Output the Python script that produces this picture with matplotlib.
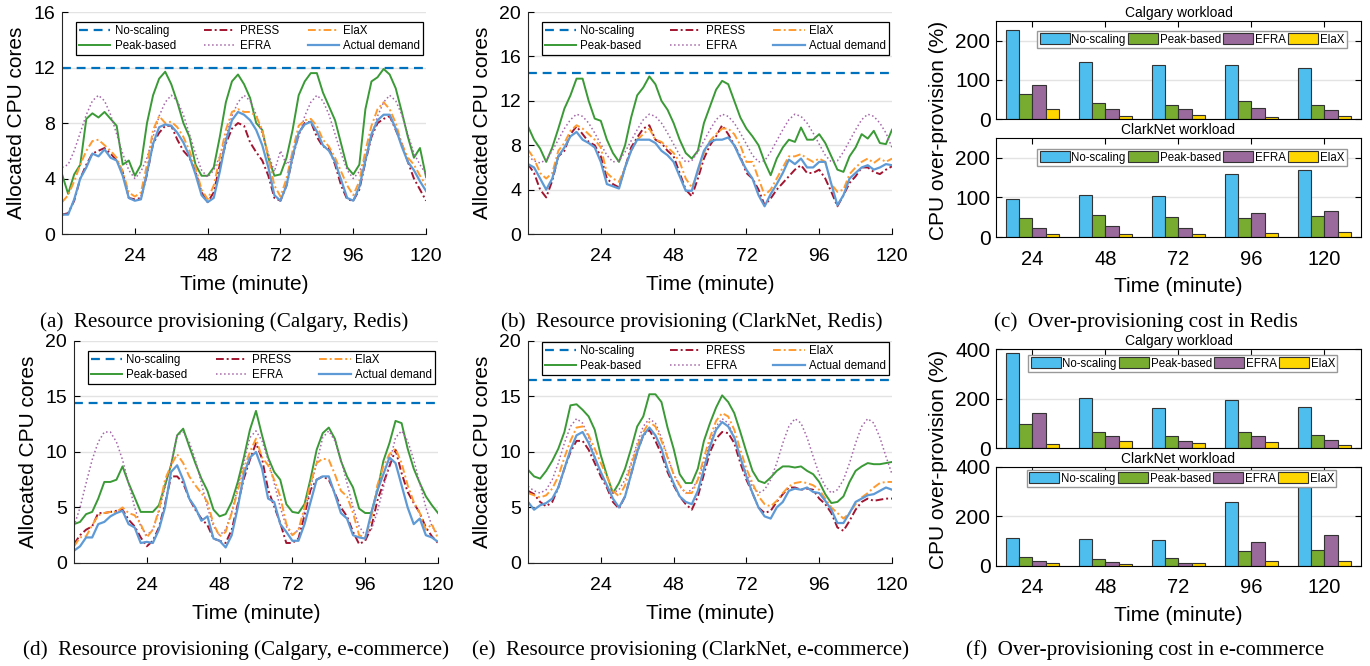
import numpy as np
import matplotlib.pyplot as plt

plt.rcParams['font.family'] = ['Liberation Sans', 'DejaVu Sans']

# time axis of the provisioning traces (minutes)
minutes = np.arange(0, 121, 2)

# (a) Calgary, Redis
noscale_a = 12.0
peak_a = [4.3, 2.9, 4.3, 5.0, 8.3, 8.7, 8.4, 8.8, 8.3, 7.8, 5.0, 5.3, 4.2, 5.0, 8.0, 10.0, 11.2, 11.7, 10.8, 9.5,
          8.0, 7.0, 5.0, 4.2, 4.2, 4.8, 7.0, 9.5, 11.0, 11.5, 10.8, 9.8, 8.0, 7.5, 5.5, 4.2, 4.3, 5.5, 7.5, 10.0,
          11.0, 11.6, 11.6, 10.2, 9.2, 8.2, 6.5, 4.8, 4.3, 5.0, 9.0, 11.0, 11.3, 11.9, 11.5, 10.5, 8.8, 7.0, 5.5, 6.2, 4.1]
press_a = [1.4, 1.5, 2.4, 4.0, 5.0, 5.8, 6.0, 6.2, 5.8, 5.3, 4.5, 2.6, 2.5, 2.6, 4.3, 6.5, 7.3, 7.8, 7.8, 6.8,
           6.0, 5.5, 4.5, 3.0, 2.3, 3.0, 5.0, 6.5, 7.6, 8.0, 7.8, 6.6, 5.9, 5.3, 4.2, 2.6, 2.4, 3.5, 5.5, 7.2,
           8.0, 8.1, 7.0, 6.3, 6.2, 5.0, 3.5, 2.5, 2.4, 3.2, 5.2, 7.0, 8.0, 8.3, 8.5, 7.5, 6.5, 5.2, 4.0, 3.2, 2.4]
efra_a = [4.8, 5.0, 6.0, 7.3, 8.6, 9.6, 10.0, 9.6, 8.6, 7.2, 5.8, 4.6, 4.0, 4.5, 5.5, 7.0, 8.5, 9.5, 10.0, 9.6,
          8.6, 7.2, 5.8, 4.6, 4.1, 4.6, 5.6, 7.0, 8.5, 9.5, 10.0, 9.6, 8.6, 7.2, 5.8, 4.5, 6.0, 5.0, 5.6, 7.0,
          8.5, 9.5, 10.0, 9.6, 8.6, 7.2, 5.8, 4.6, 4.0, 4.5, 5.5, 7.0, 8.5, 9.5, 10.0, 9.6, 8.6, 7.2, 5.8, 5.0, 4.3]
elax_a = [2.3, 2.8, 3.8, 5.0, 6.0, 6.7, 6.8, 6.4, 6.0, 5.5, 4.5, 3.0, 2.7, 3.0, 5.0, 7.5, 8.5, 8.0, 8.1, 7.7,
          7.0, 6.0, 4.8, 3.2, 2.5, 3.5, 5.5, 7.5, 8.8, 9.0, 8.8, 8.8, 8.5, 7.5, 5.5, 3.5, 2.7, 4.0, 6.0, 7.8,
          8.2, 8.3, 7.8, 6.8, 6.3, 5.5, 4.5, 3.5, 2.8, 3.8, 6.0, 7.8, 9.0, 9.5, 9.0, 8.0, 6.5, 5.5, 5.0, 4.2, 3.5]
actual_a = [1.4, 1.4, 2.5, 4.0, 4.8, 5.8, 5.6, 6.1, 5.5, 5.3, 4.2, 2.6, 2.4, 2.5, 4.4, 6.5, 7.7, 7.9, 7.8, 7.3,
            6.6, 5.6, 4.3, 2.8, 2.3, 2.6, 4.5, 6.7, 8.2, 8.8, 8.6, 8.2, 7.5, 6.4, 4.8, 2.8, 2.4, 3.5, 5.6, 7.3,
            7.9, 8.1, 7.4, 6.4, 6.0, 5.2, 3.9, 2.6, 2.4, 3.4, 5.3, 7.2, 8.2, 8.6, 8.6, 7.6, 6.3, 5.2, 4.6, 3.8, 3.1]

# (b) ClarkNet, Redis
noscale_b = 14.5
peak_b = [9.7, 8.5, 7.7, 6.5, 7.8, 9.5, 11.3, 12.5, 14.0, 14.0, 12.0, 10.4, 10.2, 8.5, 7.3, 6.5, 8.0, 10.5, 12.5, 13.2,
          14.2, 13.5, 12.0, 11.2, 10.0, 8.5, 7.3, 6.8, 7.5, 10.0, 11.5, 13.0, 13.8, 13.5, 12.0, 10.5, 9.5, 8.8, 8.0, 6.5,
          5.3, 6.8, 7.8, 8.5, 8.3, 9.6, 8.5, 8.5, 9.0, 8.2, 7.0, 5.8, 5.6, 7.0, 7.8, 9.0, 8.6, 9.3, 8.2, 8.1, 9.4]
press_b = [6.3, 5.5, 4.0, 3.3, 4.8, 7.0, 7.5, 9.0, 9.7, 9.0, 8.3, 8.0, 7.0, 5.0, 4.5, 4.2, 6.0, 7.8, 8.7, 9.5,
           9.8, 8.5, 8.2, 7.5, 7.0, 5.5, 4.0, 3.4, 5.0, 6.8, 8.0, 8.8, 9.8, 9.0, 8.0, 7.0, 5.5, 5.0, 4.0, 2.6,
           3.2, 4.0, 4.6, 5.2, 5.8, 6.2, 5.5, 5.5, 5.8, 5.0, 3.8, 2.5, 3.5, 4.6, 5.2, 6.0, 6.0, 5.6, 5.4, 5.8, 6.1]
efra_b = [7.0, 6.6, 6.4, 6.7, 7.5, 8.5, 9.5, 10.3, 10.8, 10.6, 10.0, 9.1, 8.1, 7.1, 6.5, 6.6, 7.4, 8.4, 9.4, 10.3,
          10.8, 10.6, 10.0, 9.1, 8.1, 7.1, 6.5, 6.6, 7.4, 8.4, 9.4, 10.3, 10.8, 10.6, 10.0, 9.1, 8.1, 7.1, 6.5, 6.6,
          7.4, 8.4, 9.4, 10.3, 10.8, 10.6, 10.0, 9.1, 8.1, 7.1, 6.5, 6.6, 7.4, 8.4, 9.4, 10.3, 10.8, 10.6, 10.0, 9.1, 7.8]
elax_b = [7.6, 6.8, 5.5, 5.0, 5.5, 7.5, 8.2, 9.3, 9.8, 9.5, 9.0, 8.5, 7.8, 5.5, 5.0, 4.7, 6.0, 7.5, 8.5, 9.0,
          9.5, 8.5, 8.3, 7.8, 7.3, 6.5, 5.0, 4.2, 5.5, 7.3, 8.4, 9.0, 9.5, 9.5, 9.0, 8.0, 6.5, 6.5, 5.0, 3.5,
          4.0, 5.0, 6.0, 7.0, 7.0, 7.2, 6.8, 6.5, 6.8, 6.5, 4.5, 3.8, 4.0, 5.4, 6.0, 6.5, 6.8, 6.4, 6.8, 6.5, 6.8]
actual_b = [6.3, 6.0, 5.0, 4.0, 5.0, 7.0, 7.8, 8.8, 9.2, 8.5, 8.2, 7.8, 6.5, 4.5, 4.3, 4.1, 6.0, 7.5, 8.5, 8.5,
            8.5, 8.2, 7.5, 7.1, 6.5, 5.2, 3.9, 3.9, 5.8, 7.5, 8.3, 8.5, 8.5, 8.7, 8.0, 6.8, 5.8, 5.0, 3.5, 2.5,
            3.6, 4.5, 5.5, 6.7, 6.3, 6.8, 6.0, 6.0, 6.5, 6.5, 4.5, 2.6, 3.5, 5.0, 5.5, 6.0, 6.2, 5.8, 6.0, 6.3, 6.2]

# (d) Calgary, e-commerce
noscale_d = 14.4
peak_d = [3.5, 3.7, 4.4, 4.6, 5.8, 7.3, 7.3, 7.5, 8.7, 7.2, 5.9, 4.6, 4.6, 4.6, 5.2, 7.0, 8.8, 11.5, 12.1, 10.5,
          9.0, 7.6, 6.5, 4.8, 4.2, 4.4, 5.5, 7.3, 9.5, 12.0, 13.7, 11.5, 9.5, 8.2, 7.5, 5.3, 4.6, 4.5, 5.3, 7.6,
          10.2, 11.7, 12.2, 11.2, 9.2, 7.8, 6.8, 4.9, 4.5, 4.5, 6.5, 9.2, 10.8, 12.8, 12.6, 10.3, 8.5, 7.2, 6.0, 5.2, 4.5]
press_d = [1.7, 2.5, 3.0, 3.3, 4.5, 4.5, 4.6, 4.7, 4.8, 3.9, 3.3, 2.3, 1.5, 2.0, 3.2, 5.3, 7.8, 7.8, 7.2, 5.8,
           4.8, 4.0, 3.4, 2.2, 2.0, 1.8, 3.0, 5.3, 7.6, 9.3, 10.8, 9.4, 6.6, 5.1, 3.6, 1.8, 1.8, 2.2, 4.3, 6.6,
           7.5, 7.8, 7.5, 6.3, 5.0, 4.2, 2.8, 1.7, 2.0, 3.2, 5.6, 7.2, 8.7, 10.2, 8.1, 6.4, 5.4, 4.5, 3.2, 2.4, 1.8]
efra_d = [3.3, 5.0, 7.2, 9.3, 10.9, 11.8, 11.8, 10.9, 9.3, 7.2, 5.0, 3.3, 2.5, 3.0, 4.6, 6.8, 9.0, 11.5, 11.8, 10.9,
          9.3, 7.2, 5.0, 3.3, 2.5, 3.0, 4.6, 6.8, 9.0, 11.3, 11.9, 11.0, 9.3, 7.2, 5.0, 3.3, 2.5, 3.0, 4.6, 6.8,
          9.0, 11.3, 11.9, 11.0, 9.3, 7.2, 5.0, 3.3, 2.5, 3.0, 4.6, 6.8, 9.0, 11.3, 11.9, 11.0, 9.3, 7.2, 5.0, 3.3, 2.6]
elax_d = [1.5, 2.3, 2.4, 3.4, 4.3, 4.5, 4.6, 4.6, 5.0, 4.5, 4.3, 3.5, 2.3, 3.0, 4.8, 7.5, 8.8, 9.8, 9.0, 7.8,
          7.0, 6.3, 5.5, 3.5, 2.4, 2.8, 4.5, 6.5, 8.5, 10.0, 11.2, 9.5, 8.8, 7.5, 6.0, 3.5, 2.5, 3.0, 5.0, 7.2,
          9.0, 9.4, 9.3, 8.0, 6.5, 6.0, 4.5, 2.5, 2.3, 4.0, 7.0, 8.7, 9.8, 10.3, 9.0, 7.0, 5.5, 4.5, 3.0, 3.5, 2.2]
actual_d = [1.1, 1.5, 2.3, 2.3, 3.5, 3.7, 4.2, 4.5, 4.7, 3.5, 3.2, 1.8, 1.9, 1.8, 3.0, 5.0, 8.2, 8.8, 7.5, 5.8,
            5.0, 3.8, 4.2, 2.2, 2.0, 1.4, 2.5, 5.0, 8.0, 9.5, 10.0, 8.5, 5.8, 5.5, 3.5, 2.8, 2.0, 2.0, 3.5, 5.5,
            7.5, 7.8, 7.8, 6.2, 4.5, 4.0, 2.5, 2.3, 2.2, 4.5, 6.5, 8.0, 9.5, 9.0, 7.0, 5.0, 3.5, 4.0, 2.5, 2.3, 1.9]

# (e) ClarkNet, e-commerce
noscale_e = 16.5
peak_e = [8.4, 7.8, 7.6, 8.3, 9.2, 10.3, 11.8, 14.2, 14.3, 13.8, 13.2, 12.0, 9.7, 7.9, 6.3, 7.2, 8.5, 10.3, 12.3, 13.2,
          15.2, 15.2, 14.5, 12.2, 10.3, 8.0, 7.2, 7.2, 8.5, 11.0, 12.6, 14.0, 15.1, 14.5, 13.5, 11.8, 10.0, 8.3, 7.4, 7.2,
          7.7, 8.3, 8.7, 8.7, 8.6, 8.7, 8.3, 8.0, 7.3, 6.2, 5.4, 5.5, 6.0, 7.3, 8.3, 8.7, 9.0, 8.9, 8.9, 9.0, 9.1]
press_e = [6.5, 6.2, 5.5, 5.1, 5.5, 6.8, 8.5, 10.0, 11.0, 11.0, 10.2, 9.0, 7.8, 6.8, 5.5, 4.9, 6.0, 8.0, 10.0, 11.5,
           12.0, 11.0, 9.8, 8.2, 7.0, 6.0, 5.3, 4.8, 6.0, 8.0, 10.0, 11.2, 11.8, 11.7, 10.8, 9.0, 7.5, 6.3, 5.0, 4.5,
           4.7, 5.5, 6.2, 6.8, 6.8, 6.6, 6.7, 6.6, 5.8, 5.3, 4.5, 3.2, 2.9, 3.8, 4.8, 5.5, 5.8, 5.6, 5.7, 5.8, 5.8]
efra_e = [6.9, 6.5, 6.3, 6.6, 7.5, 9.0, 10.8, 12.3, 13.0, 12.6, 11.3, 9.6, 8.0, 6.9, 6.3, 6.6, 7.5, 9.0, 10.8, 12.3,
          13.0, 12.6, 11.3, 9.6, 8.0, 6.9, 6.3, 6.6, 7.5, 9.0, 10.8, 12.3, 13.0, 12.6, 11.3, 9.6, 8.0, 6.9, 6.3, 6.6,
          7.5, 9.0, 10.8, 12.3, 13.0, 12.6, 11.3, 9.6, 8.0, 6.9, 6.3, 6.6, 7.5, 9.0, 10.8, 12.3, 13.0, 12.6, 11.3, 9.6, 8.0]
elax_e = [6.3, 6.1, 5.9, 6.1, 6.7, 7.8, 9.5, 11.0, 12.2, 12.3, 11.5, 10.3, 9.0, 7.8, 6.5, 6.0, 7.0, 8.8, 10.5, 11.8,
          12.7, 12.3, 11.0, 9.5, 8.0, 7.0, 6.3, 6.3, 7.5, 9.5, 11.3, 12.8, 13.5, 13.2, 12.0, 10.2, 8.5, 7.2, 6.0, 5.3,
          5.1, 5.6, 6.3, 6.9, 7.2, 7.3, 7.2, 7.0, 6.6, 5.8, 5.0, 4.5, 4.0, 4.5, 5.3, 5.9, 6.3, 6.8, 7.2, 7.3, 7.3]
actual_e = [5.5, 4.8, 5.2, 5.4, 5.8, 6.8, 8.5, 10.2, 11.5, 11.8, 10.8, 9.5, 8.2, 7.0, 5.8, 5.0, 6.0, 8.0, 10.0, 11.5,
            12.2, 11.5, 10.3, 8.5, 7.2, 6.0, 5.5, 5.3, 6.5, 8.5, 10.5, 12.0, 12.7, 12.3, 11.3, 9.5, 7.8, 6.3, 5.0, 4.2,
            4.0, 5.0, 5.5, 6.5, 6.7, 6.6, 6.8, 6.4, 6.3, 5.6, 4.8, 3.6, 3.6, 4.5, 5.5, 5.8, 6.1, 6.2, 6.5, 6.8, 6.6]

# over-provisioning cost (%), order: No-scaling, Peak-based, EFRA, ElaX
groups = [24, 48, 72, 96, 120]
bar_names = ['No-scaling', 'Peak-based', 'EFRA', 'ElaX']
redis_calgary = [[227, 146, 138, 138, 131],
                 [63, 40, 35, 45, 36],
                 [86, 26, 26, 28, 22],
                 [25, 8, 10, 5, 8]]
redis_clarknet = [[97, 107, 103, 159, 169],
                  [48, 55, 51, 48, 54],
                  [22, 27, 24, 60, 66],
                  [8, 8, 8, 11, 13]]
ecom_calgary = [[385, 201, 162, 193, 166],
                [99, 63, 48, 65, 54],
                [143, 50, 30, 48, 34],
                [18, 30, 19, 24, 14]]
ecom_clarknet = [[115, 108, 104, 258, 320],
                 [36, 30, 31, 62, 65],
                 [19, 15, 12, 96, 126],
                 [11, 9, 11, 22, 22]]

c_blue = '#0072BD'
c_red = '#A2142F'
c_orange = '#FF9A2E'
c_green = '#3A9A35'
c_purple = '#A466A8'
c_light = '#5E9AD6'
bar_colors = ['#4DBEEE', '#77AC30', '#9A6A9C', '#FFD700']

fig = plt.figure(figsize=(13.7, 6.66), dpi=100)


def draw_lines(rect, noscale, peak, press, efra, elax, actual, yticks, leg_y):
    ax = fig.add_axes(rect)
    ax.axhline(noscale, color=c_blue, lw=1.6, dashes=(4, 2.6), label='No-scaling')
    ax.plot(minutes, peak, color=c_green, lw=1.4, label='Peak-based')
    ax.plot(minutes, press, color=c_red, lw=1.4, dashes=(4, 1.5, 1, 1.5), label='PRESS')
    ax.plot(minutes, efra, color=c_purple, lw=1.1, ls=':', label='EFRA')
    ax.plot(minutes, elax, color=c_orange, lw=1.4, dashes=(4, 1.5, 1, 1.5), label='ElaX')
    ax.plot(minutes, actual, color=c_light, lw=1.6, label='Actual demand')
    ax.set_xlim(0, 120)
    ax.set_ylim(yticks[0], yticks[-1])
    ax.set_xticks([24, 48, 72, 96, 120])
    ax.set_yticks(yticks)
    ax.grid(axis='y', color='#e3e3e3', lw=1)
    ax.set_axisbelow(True)
    for s in ['top', 'right']:
        ax.spines[s].set_visible(False)
    for s in ['left', 'bottom']:
        ax.spines[s].set_color('#262626')
    ax.tick_params(direction='in', length=4, labelsize=14, pad=10)
    ax.tick_params(axis='y', pad=5)
    ax.set_xlabel('Time (minute)', fontsize=15, labelpad=7)
    ax.set_ylabel('Allocated CPU cores', fontsize=15)
    ax.yaxis.set_label_coords(-0.1, 0.5)
    leg = ax.legend(ncol=3, loc='lower left', bbox_to_anchor=(0.038, leg_y, 0.954, 0.144), mode='expand',
                    fontsize=8.3, handlelength=2.7, handletextpad=0.4, borderpad=0.25, labelspacing=0.25,
                    fancybox=False, framealpha=1, edgecolor='black', borderaxespad=0)
    leg.get_frame().set_linewidth(0.9)
    return ax


def draw_bars(rect, vals, ytop, yticks, title, leg_box, show_x):
    ax = fig.add_axes(rect)
    offsets = [-6.6, -2.2, 2.2, 6.6]
    for k in range(4):
        ax.bar(np.array(groups) + offsets[k], vals[k], width=4.4, color=bar_colors[k],
               edgecolor='#333333', lw=0.8, label=bar_names[k])
    ax.set_xlim(12, 132)
    ax.set_ylim(0, ytop)
    ax.set_xticks(groups)
    ax.set_yticks(yticks)
    ax.grid(axis='y', color='#e3e3e3', lw=1)
    ax.set_axisbelow(True)
    ax.tick_params(direction='in', length=4, labelsize=15, top=True, right=True, pad=4)
    ax.tick_params(axis='x', labelsize=14.5, pad=9)
    if not show_x:
        ax.tick_params(axis='x', labelbottom=False)
    ax.set_title(title, fontsize=10, pad=3)
    leg = ax.legend(ncol=4, loc='center', bbox_to_anchor=leg_box, fontsize=8.3, handlelength=2.6,
                    handleheight=1.1, handletextpad=0.15, columnspacing=0.2, borderpad=0.2,
                    fancybox=False, framealpha=1, edgecolor='#999999', borderaxespad=0)
    leg.get_frame().set_linewidth(1.0)
    return ax


draw_lines([0.0453, 0.6486, 0.2657, 0.3333], noscale_a, peak_a, press_a, efra_a, elax_a, actual_a,
           [0, 4, 8, 12, 16], 0.806)
draw_lines([0.3854, 0.6486, 0.2657, 0.3333], noscale_b, peak_b, press_b, efra_b, elax_b, actual_b,
           [0, 4, 8, 12, 16, 20], 0.806)
draw_lines([0.0540, 0.1547, 0.2657, 0.3333], noscale_d, peak_d, press_d, efra_d, elax_d, actual_d,
           [0, 5, 10, 15, 20], 0.806)
draw_lines([0.3854, 0.1547, 0.2657, 0.3333], noscale_e, peak_e, press_e, efra_e, elax_e, actual_e,
           [0, 5, 10, 15, 20], 0.847)

draw_bars([0.727, 0.8213, 0.2664, 0.1471], redis_calgary, 250, [0, 100, 200], 'Calgary workload',
          (0.537, 0.811), False)
axc = draw_bars([0.727, 0.6441, 0.2664, 0.1486], redis_clarknet, 250, [0, 100, 200], 'ClarkNet workload',
                (0.537, 0.803), True)
axc.set_xlabel('Time (minute)', fontsize=15, labelpad=6)
draw_bars([0.727, 0.3273, 0.2664, 0.1486], ecom_calgary, 400, [0, 200, 400], 'Calgary workload',
          (0.512, 0.854), False)
axf = draw_bars([0.727, 0.1502, 0.2664, 0.1486], ecom_clarknet, 400, [0, 200, 400], 'ClarkNet workload',
                (0.509, 0.885), True)
axf.set_xlabel('Time (minute)', fontsize=15, labelpad=6)

fig.text(938 / 1370, 1 - 130 / 666, 'CPU over-provision (%)', rotation=90, ha='center', va='center', fontsize=15)
fig.text(938 / 1370, 1 - 459 / 666, 'CPU over-provision (%)', rotation=90, ha='center', va='center', fontsize=15)

captions = [('(a)  Resource provisioning (Calgary, Redis)', 224, 322),
            ('(b)  Resource provisioning (ClarkNet, Redis)', 692, 322),
            ('(c)  Over-provisioning cost in Redis', 1146, 322),
            ('(d)  Resource provisioning (Calgary, e-commerce)', 236, 650),
            ('(e)  Resource provisioning (ClarkNet, e-commerce)', 690, 650),
            ('(f)  Over-provisioning cost in e-commerce', 1145, 650)]
for txt, cx, cy in captions:
    fig.text(cx / 1370, 1 - cy / 666, txt, ha='center', va='center', fontsize=15.2,
             family=['Liberation Serif', 'DejaVu Serif'])

fig.savefig('out.png', dpi=100)
